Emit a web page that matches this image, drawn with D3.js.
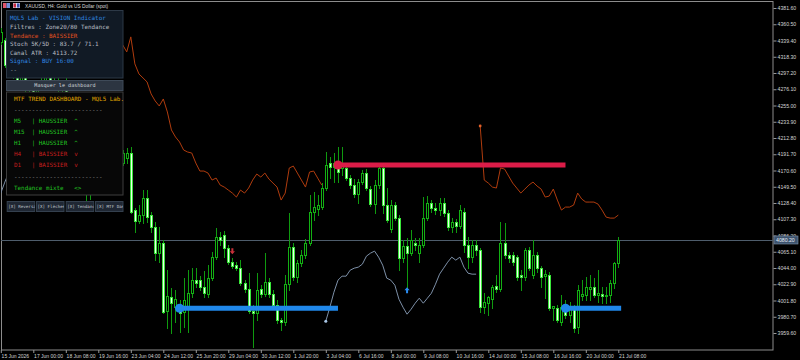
<!DOCTYPE html>
<html><head><meta charset="utf-8">
<script src="https://cdn.jsdelivr.net/npm/d3@7"></script>
<style>
html,body{margin:0;padding:0;background:#000;}
svg{display:block;}
text{white-space:pre;}
</style></head><body>
<svg id="c" width="800" height="360"></svg>
<script>
// ---------- DATA ----------
const symbolTitle = "XAUUSD, H4: Gold vs US Dollar (spot)";
const tickBars = [0,8,16,24,32,40,48,56,64,72,80,88,96,104,112,120,128,136,144,152];
const tickLabels = ["15 Jun 2026","17 Jun 00:00","18 Jun 08:00","19 Jun 16:00","23 Jun 04:00","24 Jun 12:00","25 Jun 20:00","29 Jun 04:00","30 Jun 12:00","1 Jul 20:00","3 Jul 04:00","6 Jul 16:00","8 Jul 00:00","9 Jul 08:00","10 Jul 16:00","14 Jul 00:00","15 Jul 08:00","16 Jul 16:00","20 Jul 00:00","21 Jul 08:00"];
const priceTicks = [4381.6,4360.5,4339.4,4318.3,4297.2,4276.1,4255.0,4233.9,4212.8,4191.7,4170.6,4149.5,4128.4,4107.3,4086.2,4065.1,4044.0,4022.9,4001.8,3980.7,3959.6];
const lastPrice = 4080.2;

const open = [4337.6,4340.2,4303.8,4311.6,4298.6,4288.2,4296.0,4275.2,4283.0,4267.4,4277.8,4285.6,4293.4,4283.0,4288.2,4275.2,4280.4,4268.7,4236.2,4210.2,
4184.2,4164.7,4151.7,4158.2,4171.2,4164.7,4177.7,4184.2,4173.8,4186.8,4180.3,4186.8,4193.3,4119.2,4104.9,4112.7,4134.8,4112.7,4097.1,4063.3,
4076.3,3987.9,4006.1,3993.1,3993.1,3986.6,3991.8,4011.3,4028.2,4028.2,4019.1,4010.0,4030.8,4058.1,4084.1,4086.7,4069.8,4051.6,4047.7,4043.8,
4024.3,4016.5,3987.9,3985.3,4016.5,4010.0,4025.6,4010.0,3995.7,3976.2,3973.6,4023.0,4071.1,4032.1,4050.3,4060.7,4076.3,4116.6,4120.5,4123.1,
4147.8,4180.3,4175.1,4177.7,4173.8,4173.8,4160.8,4151.7,4140.0,4155.6,4167.3,4146.5,4127.0,4151.7,4173.8,4125.7,4094.5,4125.7,4108.8,4056.8,
4072.4,4063.3,4076.3,4063.3,4073.7,4108.8,4128.3,4121.8,4119.2,4128.3,4115.3,4097.1,4103.6,4098.4,4116.6,4073.7,4058.1,4073.7,4067.2,3993.1,
3998.3,4003.5,4020.4,4016.5,4076.3,4060.7,4060.7,4058.1,4034.7,4032.1,4067.2,4034.7,4060.7,4043.8,4033.4,4034.7,3991.8,3991.8,3973.6,3993.1,
3982.7,3993.1,3967.1,4007.4,4008.7,4016.5,4019.1,4008.7,4010.0,4007.4,4008.7,4024.3,4050.3];
const high = [4355.8,4342.8,4314.2,4316.8,4306.4,4301.2,4298.6,4288.2,4285.6,4283.0,4290.8,4298.6,4296.0,4293.4,4292.1,4285.6,4290.8,4272.6,4242.7,4216.7,
4190.7,4171.2,4160.8,4173.8,4176.4,4184.2,4189.4,4186.8,4192.0,4190.7,4197.2,4199.8,4201.1,4121.8,4125.7,4145.2,4145.2,4116.6,4103.6,4097.1,
4080.2,4041.2,4017.8,4015.2,4002.2,4030.8,4041.2,4043.8,4043.8,4033.4,4039.9,4047.7,4064.6,4095.8,4090.6,4091.9,4073.7,4056.8,4051.6,4054.2,
4028.2,4037.3,3995.7,4037.3,4021.7,4063.3,4030.8,4015.2,4002.2,3978.8,4034.7,4115.3,4076.3,4054.2,4067.2,4081.5,4138.7,4142.6,4138.7,4154.3,
4194.6,4188.1,4193.3,4201.1,4201.1,4177.7,4164.7,4159.5,4159.5,4171.2,4172.5,4150.4,4158.2,4175.1,4176.4,4147.8,4132.2,4129.6,4112.7,4080.2,
4082.8,4093.2,4082.8,4082.8,4136.1,4137.4,4132.2,4128.3,4134.8,4134.8,4119.2,4108.8,4107.5,4125.7,4121.8,4084.1,4080.2,4080.2,4069.8,4011.3,
4007.4,4021.7,4034.7,4103.6,4102.3,4064.6,4064.6,4060.7,4041.2,4069.8,4071.1,4080.2,4064.6,4046.4,4041.2,4038.6,3994.4,3995.7,4008.7,4002.2,
3999.6,3995.7,4021.7,4028.2,4032.1,4034.7,4030.8,4041.2,4019.1,4019.1,4028.2,4051.6,4084.1];
const low = [4335.0,4305.1,4298.6,4290.8,4281.7,4283.0,4270.0,4272.6,4262.2,4264.8,4275.2,4280.4,4277.8,4280.4,4272.6,4272.6,4264.8,4229.7,4203.7,4177.7,
4155.6,4132.2,4133.5,4147.8,4155.6,4160.8,4171.2,4168.6,4168.6,4176.4,4177.7,4180.3,4115.3,4090.6,4102.3,4102.3,4103.6,4090.6,4054.2,4051.6,
3985.3,3965.8,3959.3,3973.6,3960.6,3967.1,3960.6,4006.1,4019.1,4015.2,4006.1,4006.1,4028.2,4055.5,4073.7,4058.1,4049.0,4043.8,4041.2,4021.7,
4012.6,3985.3,3942.0,3976.2,4006.1,4007.4,4006.1,3993.1,3972.3,3963.2,3969.7,4015.2,4028.2,4025.6,4046.4,4056.8,4073.7,4106.2,4112.7,4120.5,
4145.2,4160.8,4155.6,4155.6,4164.7,4158.2,4147.8,4136.1,4128.3,4153.0,4145.2,4124.4,4115.3,4147.8,4115.3,4103.6,4090.6,4106.2,4041.2,4051.6,
4019.1,4060.7,4067.2,4051.6,4071.1,4106.2,4116.6,4114.0,4112.7,4111.4,4093.2,4090.6,4090.6,4095.8,4064.6,4043.8,4051.6,4060.7,3986.6,3985.3,
3982.7,3991.8,4012.6,4013.9,4056.8,4051.6,4047.7,4028.2,4015.2,4028.2,4041.2,4030.8,4038.6,4019.1,4004.8,3989.2,3976.2,3973.6,3969.7,3978.8,
3973.6,3960.6,3959.3,4002.2,4002.2,4002.2,4006.1,3999.6,3998.3,3998.3,3999.6,4017.8,4045.1];
const close = [4350.6,4307.7,4311.6,4298.6,4288.2,4296.0,4275.2,4283.0,4267.4,4277.8,4285.6,4293.4,4283.0,4288.2,4275.2,4280.4,4268.7,4236.2,4210.2,4184.2,
4164.7,4151.7,4158.2,4171.2,4164.7,4177.7,4184.2,4173.8,4186.8,4180.3,4193.3,4193.3,4116.6,4104.9,4112.7,4134.8,4110.1,4097.1,4063.3,4076.3,
3986.6,4007.4,3998.3,4003.5,3985.3,4002.2,4011.3,4028.2,4024.3,4019.1,4011.3,4030.8,4058.1,4084.1,4080.2,4069.8,4051.6,4046.4,4043.8,4024.3,
4016.5,3987.9,3985.3,4015.2,4010.0,4025.6,4010.0,3995.7,3976.2,3973.6,4023.0,4071.1,4032.1,4050.3,4060.7,4076.3,4116.6,4123.1,4125.7,4147.8,
4177.7,4175.1,4180.3,4168.6,4180.3,4160.8,4151.7,4140.0,4155.6,4167.3,4147.8,4127.0,4151.7,4173.8,4125.7,4106.2,4125.7,4108.8,4056.8,4072.4,
4063.3,4080.2,4073.7,4073.7,4108.8,4128.3,4121.8,4119.2,4128.3,4115.3,4097.1,4103.6,4098.4,4119.2,4073.7,4058.1,4073.7,4067.2,3993.1,3999.6,
4006.1,4019.1,4016.5,4076.3,4060.7,4056.8,4051.6,4032.1,4032.1,4067.2,4043.8,4060.7,4043.8,4032.1,4036.0,3991.8,3994.4,3976.2,3993.1,3982.7,
3990.5,3965.8,4015.2,4010.0,4019.1,4019.1,4008.7,4011.3,4007.4,4008.7,4024.3,4050.3,4080.2];

// ATR channel line (orange), two segments: [startBar, values]
const channelStarts = [28, 118];
const channelValues = [
 [4335.0,4340.0,4333.7,4324.6,4344.1,4309.0,4296.0,4290.8,4285.6,4270.0,4260.9,4254.4,4263.5,4246.6,4223.2,4214.1,4207.6,4197.2,4194.6,4193.3,
  4180.3,4169.9,4169.9,4167.3,4158.2,4160.8,4151.7,4149.1,4145.2,4141.3,4136.1,4145.2,4141.3,4147.8,4158.2,4166.0,4162.1,4167.3,4159.5,4154.3,
  4149.1,4132.2,4141.3,4173.8,4176.4,4167.3,4158.2,4149.1,4168.6,4169.9,4160.8,4151.7],
 [4228.4,4158.2,4154.3,4149.1,4147.8,4173.8,4172.5,4163.4,4154.3,4147.8,4141.3,4146.5,4151.7,4155.6,4150.4,4146.5,4136.1,4137.4,4146.5,4132.2,
  4119.2,4123.1,4123.1,4125.7,4141.3,4133.5,4129.6,4129.6,4129.6,4127.0,4119.2,4110.1,4108.8,4108.8,4112.7]
];
// signal line (steel blue), two segments
const signalStarts = [0, 80];
const signalValues = [
 [4141.3,4155.6,4168.6],
 [3974.9,3993.1,4012.6,4028.2,4033.4,4033.4,4041.2,4043.8,4045.1,4049.0,4059.4,4063.3,4065.9,4058.1,4047.7,4030.8,4028.2,4021.7,4003.5,3993.1,
  3984.0,3990.5,3998.3,4004.8,3998.3,4004.8,4011.3,4023.0,4036.0,4043.8,4051.6,4058.1,4054.2,4058.1,4045.1,4037.3,4036.0,4036.0]
];
// support / resistance zones
const zoneType = ["support","resistance","support"];
const zoneFrom = [44, 83, 139];
const zoneTo = [83, 139, 152.7];
const zonePrice = [3991.8, 4177.7, 3991.8];
// arrows
const arrowType = ["sell","buy"];
const arrowBar = [57, 100];
const arrowPrice = [4065.9, 4015.2];

// dashboard texts
const infoLines = ["MQL5 Lab - VISION Indicator","Filtres : Zone20/80 Tendance","Tendance : BAISSIER","Stoch 5K/5D : 83.7 / 71.1","Canal ATR : 4113.72","Signal : BUY 16:00","--"];
const infoColors = ["#2f86e0","#b8bcc2","#e2501e","#b8bcc2","#b8bcc2","#2f86e0","#9aa0a6"];
const mtfLines = ["MTF TREND DASHBOARD - MQL5 Lab.","-------------------------","M5   | HAUSSIER  ^","M15  | HAUSSIER  ^","H1   | HAUSSIER  ^","H4   | BAISSIER  v","D1   | BAISSIER  v","-------------------------","Tendance mixte   <>"];
const mtfColors = ["#e0a800","#8a8a8a","#22c322","#22c322","#22c322","#c81e1e","#c81e1e","#8a8a8a","#22c322"];
const buttonLabels = ["[X] Reversal","[X] Flèches","[X] Tendance","[X] MTF Dash"];

// ---------- DRAW ----------
const W = 800, H = 360, plotR = 773, plotB = 350;
const svg = d3.select('#c');
svg.append('rect').attr('width',W).attr('height',H).attr('fill','#000');
const defs = svg.append('defs');
defs.append('clipPath').attr('id','plot').append('rect').attr('x',1).attr('y',2).attr('width',plotR-1).attr('height',plotB-2);

const x = d3.scaleLinear().domain([0,152]).range([0.8,618.3]);
const y = d3.scaleLinear().domain([3959.6,4381.6]).range([333,8]);

// frame
svg.append('rect').attr('x',1.5).attr('y',1.5).attr('width',plotR-1.5).attr('height',plotB-1.5)
  .attr('fill','none').attr('stroke','#8c8c8c').attr('stroke-width',1);

const g = svg.append('g').attr('clip-path','url(#plot)');

// last price line
g.append('line').attr('x1',1).attr('x2',plotR).attr('y1',Math.round(y(lastPrice))+0.5).attr('y2',Math.round(y(lastPrice))+0.5)
  .attr('stroke','#4e5d6c').attr('stroke-width',1);

// candles
const idx = d3.range(open.length);
const cx = i => Math.round(x(i));
const cg = g.append('g').attr('shape-rendering','crispEdges');
cg.selectAll('line.w').data(idx).join('line')
  .attr('x1',i=>cx(i)+0.5).attr('x2',i=>cx(i)+0.5)
  .attr('y1',i=>Math.round(y(high[i]))).attr('y2',i=>Math.round(y(low[i]))+1)
  .attr('stroke','#0f9a0f').attr('stroke-width',1);
cg.selectAll('rect.b').data(idx).join('rect')
  .attr('x',i=>cx(i)-0.5)
  .attr('y',i=>Math.round(y(Math.max(open[i],close[i])))+0.5)
  .attr('width',2)
  .attr('height',i=>Math.max(0,Math.round(y(Math.min(open[i],close[i])))-Math.round(y(Math.max(open[i],close[i])))))
  .attr('fill',i=>close[i]>=open[i]?'#000':'#eaffea')
  .attr('stroke',i=>close[i]>=open[i]?'#13b013':'#39e639')
  .attr('stroke-width',1);

// channel line
const lineGen = (start) => d3.line().x((d,i)=>x(start+i)).y(d=>y(d));
channelValues.forEach((vals,s)=>{
  g.append('path').attr('d',lineGen(channelStarts[s])(vals)).attr('fill','none')
    .attr('stroke','#b03c0e').attr('stroke-width',1);
});
g.append('circle').attr('cx',x(channelStarts[1])).attr('cy',y(channelValues[1][0])).attr('r',1.4).attr('fill','#e0602a');

// signal line
signalValues.forEach((vals,s)=>{
  g.append('path').attr('d',lineGen(signalStarts[s])(vals)).attr('fill','none')
    .attr('stroke','#7d90a8').attr('stroke-width',1);
});
g.append('circle').attr('cx',x(signalStarts[1])).attr('cy',y(signalValues[1][0])).attr('r',1.5).attr('fill','#a9c6e6');

// zones
zoneType.forEach((t,i)=>{
  const col = t==='support' ? '#2088ea' : '#dc1c48';
  const yy = y(zonePrice[i]);
  g.append('line').attr('x1',x(zoneFrom[i])).attr('x2',x(zoneTo[i])).attr('y1',yy).attr('y2',yy)
    .attr('stroke',col).attr('stroke-width',5);
  g.append('circle').attr('cx',x(zoneFrom[i])).attr('cy',yy).attr('r',4.5).attr('fill',col);
});

// arrows
arrowType.forEach((t,i)=>{
  const ax = x(arrowBar[i]), ay = y(arrowPrice[i]);
  const col = t==='buy' ? '#2a8cf0' : '#c8303a';
  const p = t==='buy'
    ? `M${ax},${ay-3} L${ax+2.6},${ay} L${ax+1},${ay} L${ax+1},${ay+3} L${ax-1},${ay+3} L${ax-1},${ay} L${ax-2.6},${ay} Z`
    : `M${ax},${ay+3} L${ax+2.6},${ay} L${ax+1},${ay} L${ax+1},${ay-3} L${ax-1},${ay-3} L${ax-1},${ay} L${ax-2.6},${ay} Z`;
  g.append('path').attr('d',p).attr('fill',col);
});

// y axis
const yAxis = d3.axisRight(y).tickValues(priceTicks).tickFormat(d=>d.toFixed(2)).tickSize(3).tickPadding(1);
const ya = svg.append('g').attr('transform',`translate(${plotR+0.5},0)`).call(yAxis);
ya.select('.domain').remove();
ya.selectAll('line').attr('stroke','#9a9a9a');
ya.selectAll('text').attr('fill','#d4d4d4').attr('font-family','Liberation Sans, Arial, sans-serif').attr('font-size','5.2px');

// price label
const ly = Math.round(y(lastPrice));
svg.append('rect').attr('x',plotR+1).attr('y',ly-4).attr('width',24).attr('height',8).attr('fill','#3d536e').attr('stroke','#7f93ab').attr('stroke-width',0.6);
svg.append('text').attr('x',plotR+3).attr('y',ly+0.5).attr('dy','0.32em').attr('fill','#e6eef6')
  .attr('font-family','Liberation Sans, Arial, sans-serif').attr('font-size','5.2px').text(lastPrice.toFixed(2));

// x axis
const xAxis = d3.axisBottom(x).tickValues(tickBars).tickFormat((d,i)=>tickLabels[i]).tickSize(3).tickPadding(1);
const xa = svg.append('g').attr('transform',`translate(0,${plotB})`).call(xAxis);
xa.select('.domain').remove();
xa.selectAll('line').attr('stroke','#9a9a9a');
xa.selectAll('text').attr('fill','#d4d4d4').attr('font-family','Liberation Sans, Arial, sans-serif').attr('font-size','5px')
  .attr('text-anchor','start').attr('dx','0.3px');

// title
svg.append('rect').attr('x',3).attr('y',3).attr('width',3.5).attr('height',5).attr('fill','#e0556a');
svg.append('rect').attr('x',6.5).attr('y',3).attr('width',3.5).attr('height',5).attr('fill','#6f8fd8');
svg.append('rect').attr('x',13).attr('y',3).attr('width',7).attr('height',5).attr('fill','#d9d9e6');
svg.append('rect').attr('x',13.5).attr('y',3.5).attr('width',2.5).attr('height',4).attr('fill','#c8283c');
svg.append('rect').attr('x',17).attr('y',3.5).attr('width',2.5).attr('height',4).attr('fill','#3a4fae');
svg.append('text').attr('x',25).attr('y',7.5).attr('fill','#d8d8d8').attr('font-family','Liberation Sans, Arial, sans-serif')
  .attr('font-size','4.8px').text(symbolTitle);

// dashboard 1
const mono = 'DejaVu Sans Mono, Liberation Mono, monospace';
svg.append('rect').attr('x',6.5).attr('y',10.5).attr('width',116.5).attr('height',67.5).attr('fill','#111a25').attr('stroke','#2d3947');
infoLines.forEach((t,i)=>{
  svg.append('text').attr('x',10).attr('y',18.3+i*8.6).attr('dy','0.35em').attr('fill',infoColors[i])
    .attr('font-family',mono).attr('font-size','5.9px').attr('xml:space','preserve').text(t);
});
// hide button
svg.append('rect').attr('x',6.5).attr('y',80.5).attr('width',116.5).attr('height',10).attr('fill','#2c3541').attr('stroke','#3e4a58');
svg.append('text').attr('x',65).attr('y',85.7).attr('dy','0.35em').attr('text-anchor','middle').attr('fill','#d4d8dc')
  .attr('font-family',mono).attr('font-size','5.1px').text('Masquer le dashboard');
// MTF panel
svg.append('rect').attr('x',6.5).attr('y',92).attr('width',116.5).attr('height',103).attr('fill','#070707').attr('stroke','#3e3e3e');
const mtfY = [99,110,121,132,143,154,165.3,176.7,187.7];
mtfLines.forEach((t,i)=>{
  svg.append('text').attr('x',14).attr('y',mtfY[i]).attr('dy','0.35em').attr('fill',mtfColors[i])
    .attr('font-family',mono).attr('font-size','5.9px').attr('xml:space','preserve').text(t);
});
// buttons
const bx = [6.7,36,65.7,95];
buttonLabels.forEach((t,i)=>{
  const cid = 'bc'+i;
  defs.append('clipPath').attr('id',cid).append('rect').attr('x',bx[i]).attr('y',201).attr('width',28).attr('height',11);
  svg.append('rect').attr('x',bx[i]+0.5).attr('y',201.5).attr('width',27.5).attr('height',10).attr('fill','#1f2733').attr('stroke','#34404e');
  svg.append('text').attr('x',bx[i]+1.5).attr('y',206.5).attr('dy','0.35em').attr('fill','#c6cbd1')
    .attr('font-family',mono).attr('font-size','4.2px').attr('clip-path',`url(#${cid})`).text(t);
});
</script>
</body></html>
